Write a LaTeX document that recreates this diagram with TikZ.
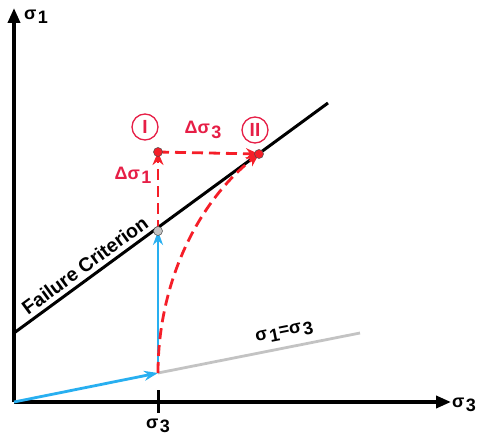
\documentclass[tikz,border=0pt]{standalone}
\usepackage{fontspec}
\setmainfont{Liberation Sans}
\usetikzlibrary{arrows.meta,positioning}
\definecolor{pathred}{RGB}{245,30,40}
\definecolor{labred}{RGB}{230,30,70}
\definecolor{pathblue}{RGB}{40,175,240}
\definecolor{lingray}{RGB}{195,195,195}
\newcommand{\sig}[1]{σ\kern1.5pt\raisebox{-0.45ex}{#1}}

\begin{document}
\begin{tikzpicture}[
  x=1pt, y=-1pt, >=Stealth,
  font=\bfseries\fontsize{18}{20}\selectfont,
  ax/.style={-{Triangle[length=15pt,width=12pt]}, line width=3.6pt},
  blu/.style={-{Stealth[length=14pt,width=10pt]}, pathblue, line width=2.8pt},
  rd/.style={-{Stealth[length=13pt,width=11pt]}, pathred, line width=2.8pt,
             dash pattern=on 11pt off 6pt},
  dot/.style={circle, draw=black!70, line width=0.5pt, inner sep=0pt, minimum size=9pt},
  num/.style={circle, draw=labred, line width=1.3pt, text=labred, inner sep=0pt,
              minimum size=26pt, font=\bfseries\fontsize{19}{21}\selectfont},
]
  \useasboundingbox (0,0) rectangle (481,443);
  % axes
  \coordinate (o)  at (14,402);
  \coordinate (ytip) at (14,8);
  \coordinate (xtip) at (451,402);
  \draw[ax] (o) -- (ytip);
  \draw[ax] (o) -- (xtip);
  \node (ylab) at (36,17) {\sig{1}};
  \node (xlab) at (464,405) {\sig{3}};
  \draw[line width=3pt] (158,390) coordinate (t0) -- (158,413) coordinate (t1);
  \node[below=2pt of t1] (s3lab) {\sig{3}};

  % lines
  \coordinate (s3) at (158,373);
  \coordinate (hyd) at (360,333);
  \draw[lingray, line width=2.8pt] (s3) -- (hyd)
     node[pos=0.64, above=3pt, sloped, text=black] (hydlab) {\sig{1}=\sig{3}};
  \coordinate (fc0) at (14,333);
  \coordinate (fc1) at (328,103);
  \draw[line width=3pt] (fc0) -- (fc1)
     node[pos=0.25, above=1pt, sloped, font=\bfseries\fontsize{19.5}{21}\selectfont]
     (fclab) {Failure Criterion};

  % stress path
  \coordinate (pc)  at (158,231);
  \coordinate (pI)  at (158,152);
  \coordinate (pII) at (259,154);
  \draw[blu] (o) -- (s3);
  \draw[blu] (s3) -- (pc);
  \draw[rd] (pc) -- (pI);
  \draw[rd] (pI) -- (pII);
  \draw[rd] (s3) .. controls (158,280) and (200,200) .. (pII);
  \node[dot, fill=lingray] (dc) at (pc) {};
  \node[dot, fill=pathred] (dI) at (pI) {};
  \node[dot, fill=pathred] (dII) at (pII) {};

  % labels
  \node[num] (nI)  at (145,127) {I};
  \node[num] (nII) at (255,130) {II};
  \node[text=labred] (d3) at (203,130) {Δ\sig{3}};
  \node[text=labred] (d1) at (133,175) {Δ\sig{1}};
\end{tikzpicture}
\end{document}
